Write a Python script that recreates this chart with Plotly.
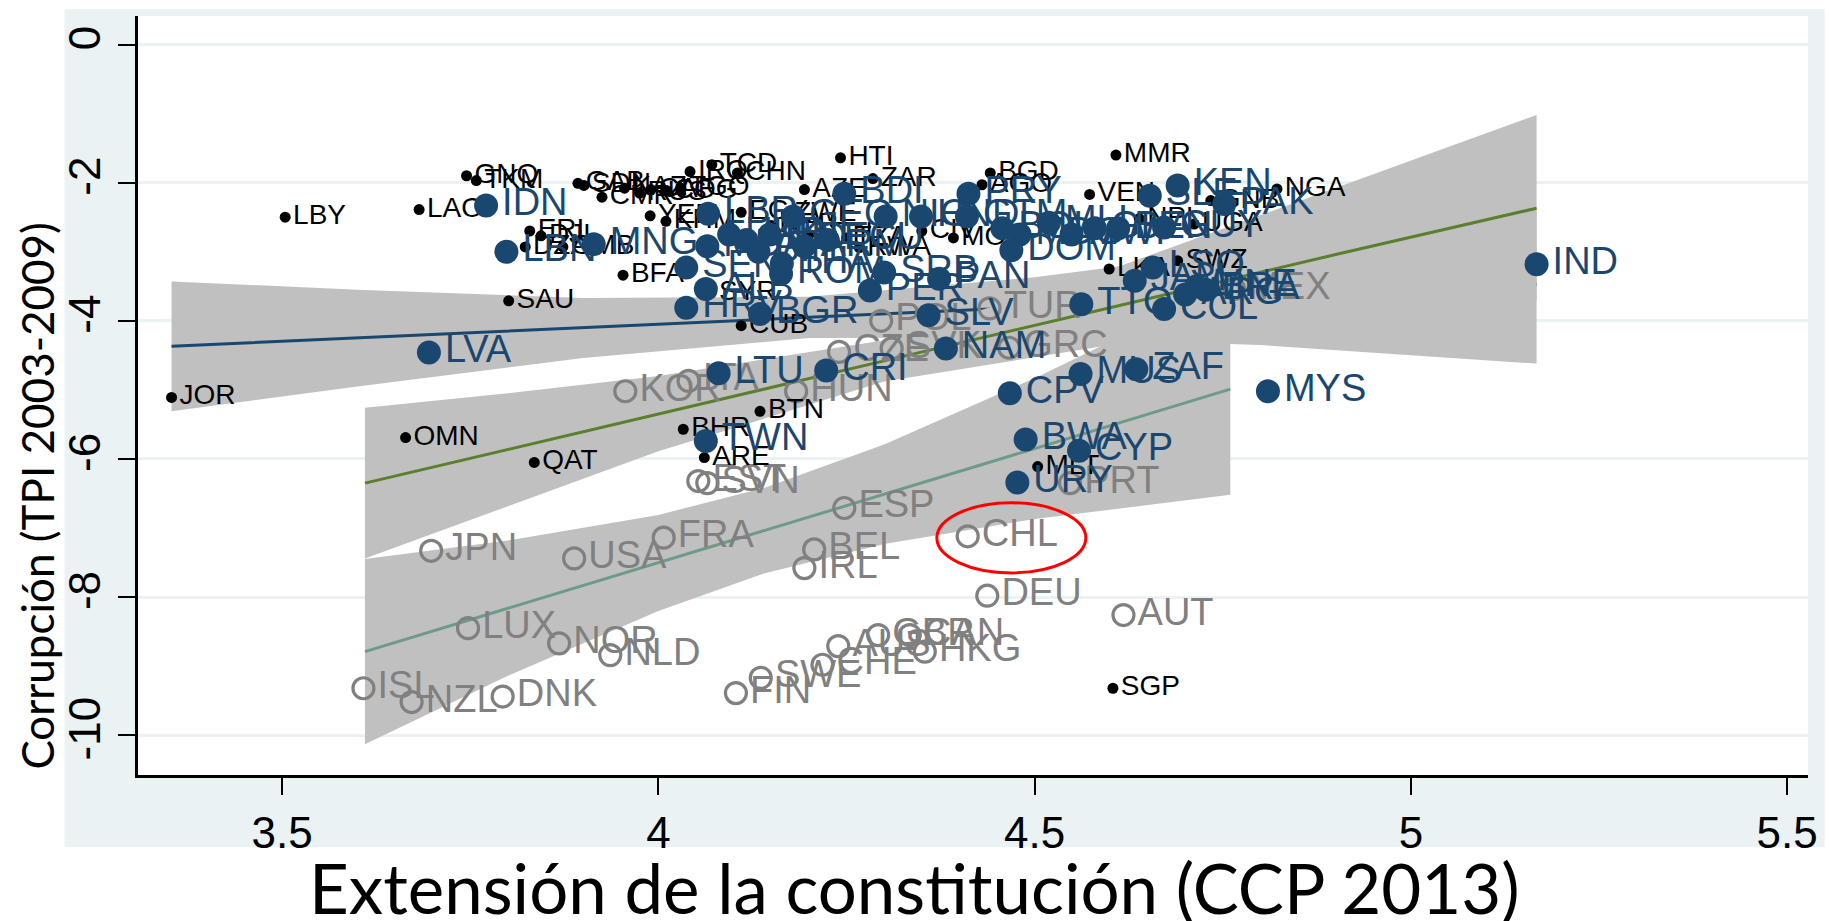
import plotly.graph_objects as go

# ---- data ----
# black: small dots
black_codes = ["JOR", "LBY", "LAO", "GNQ", "TKM", "ERI", "DJI", "DZA", "GMB", "SAU", "OMN", "QAT",
               "GAB", "SDN", "CMR", "KAZ", "RUS", "CAF", "COG", "TGO", "IRQ", "TCD", "CHN", "YEM",
               "KHM", "AZE", "ZAR", "HTI", "EGY", "ZWE", "BFA", "CUB", "RWA", "SYR", "BGD", "AGO",
               "VEN", "MMR", "NGA", "GNB", "UGA", "NPL", "SWZ", "LKA", "MOZ", "NER", "ETH", "TZA",
               "CIV", "BHR", "BTN", "ARE", "MLT", "SGP"]
black_x = [3.353, 3.504, 3.682, 3.745, 3.758, 3.829, 3.844, 3.823, 3.873, 3.801, 3.664, 3.835,
           3.893, 3.901, 3.925, 3.955, 3.975, 3.990, 4.010, 4.030, 4.042, 4.071, 4.105, 3.989,
           4.010, 4.194, 4.285, 4.242, 4.110, 4.170, 3.953, 4.110, 4.267, 4.070, 4.441, 4.430,
           4.573, 4.608, 4.822, 4.734, 4.712, 4.639, 4.690, 4.599, 4.392, 4.150, 4.200, 4.250,
           4.350, 4.033, 4.135, 4.061, 4.504, 4.604]
black_y = [-5.11, -2.50, -2.39, -1.90, -1.97, -2.70, -2.77, -2.93, -2.93, -3.71, -5.69, -6.05,
           -2.01, -2.04, -2.21, -2.08, -2.15, -2.10, -2.12, -2.08, -1.84, -1.74, -1.86, -2.48,
           -2.56, -2.10, -1.94, -1.64, -2.43, -2.45, -3.34, -4.07, -2.94, -3.60, -1.86, -2.03,
           -2.17, -1.60, -2.09, -2.26, -2.60, -2.52, -3.13, -3.25, -2.80, -2.62, -2.75, -2.80,
           -2.70, -5.57, -5.31, -5.98, -6.11, -9.32]

# blue: large filled circles
blue_codes = ["IND", "MYS", "LVA", "IDN", "LBN", "MNG", "TWN", "LTU", "CRI", "NAM", "CPV", "MUS",
              "ZAF", "BWA", "CYP", "URY", "SLV", "PER", "SRB", "PAN", "BGR", "HRV", "SEN", "ALB",
              "ROM", "LBR", "MDA", "UKR", "MKD", "BIH", "PHL", "THA", "ARM", "ECU", "BDI", "NIC",
              "HND", "GTM", "PRY", "BOL", "MDG", "DOM", "MLI", "MWI", "GHA", "BEN", "SLE", "KEN",
              "PAK", "GUY", "TTO", "COL", "JAM", "LSO", "ARG", "BRA", "MNE", "GEO"]
blue_x = [5.167, 4.810, 3.695, 3.771, 3.798, 3.914, 4.063, 4.080, 4.223, 4.382, 4.467, 4.561,
          4.635, 4.488, 4.559, 4.477, 4.359, 4.281, 4.300, 4.373, 4.135, 4.037, 4.037, 4.063,
          4.163, 4.066, 4.065, 4.094, 4.117, 4.133, 4.148, 4.164, 4.194, 4.225, 4.247, 4.302,
          4.349, 4.410, 4.412, 4.457, 4.480, 4.469, 4.519, 4.549, 4.580, 4.611, 4.653, 4.690,
          4.752, 4.672, 4.562, 4.672, 4.633, 4.657, 4.700, 4.727, 4.715, 4.179]
blue_y = [-3.18, -5.02, -4.46, -2.33, -3.00, -2.89, -5.74, -4.76, -4.72, -4.40, -5.05, -4.77,
          -4.70, -5.72, -5.88, -6.34, -3.92, -3.56, -3.30, -3.39, -3.90, -3.81, -3.23, -3.54,
          -3.32, -2.45, -2.92, -2.75, -2.83, -3.00, -2.75, -3.17, -2.92, -2.83, -2.16, -2.49,
          -2.49, -2.49, -2.16, -2.66, -2.75, -2.98, -2.58, -2.75, -2.66, -2.66, -2.19, -2.04,
          -2.31, -2.65, -3.76, -3.83, -3.42, -3.23, -3.62, -3.55, -3.50, -2.49]

# gray: hollow circles
gray_codes = ["MEX", "GRC", "TUR", "POL", "CZE", "SVK", "KOR", "ITA", "HUN", "EST", "SVN", "ESP",
              "CHL", "DEU", "AUT", "BEL", "IRL", "CAN", "AUS", "GBR", "HKG", "CHE", "SWE", "FIN",
              "JPN", "USA", "FRA", "LUX", "NOR", "NLD", "ISL", "NZL", "DNK", "PRT"]
gray_x = [4.765, 4.466, 4.440, 4.296, 4.240, 4.310, 3.956, 4.040, 4.183, 4.053, 4.065, 4.247,
          4.411, 4.437, 4.618, 4.207, 4.194, 4.334, 4.239, 4.292, 4.354, 4.218, 4.136, 4.103,
          3.698, 3.888, 4.007, 3.747, 3.868, 3.936, 3.608, 3.672, 3.793, 4.547]
gray_y = [-3.54, -4.39, -3.82, -4.00, -4.45, -4.40, -5.02, -4.87, -5.02, -6.32, -6.35, -6.71,
          -7.12, -7.98, -8.26, -7.31, -7.58, -8.55, -8.71, -8.55, -8.79, -8.98, -9.17, -9.39,
          -7.33, -7.44, -7.14, -8.45, -8.67, -8.84, -9.32, -9.52, -9.44, -6.35]

# linear fits with confidence bands
fit_a_x = [3.353, 3.6, 3.9, 4.2, 4.5, 4.8, 5.167]
fit_a_line = [-4.37, -4.25, -4.10, -3.95, -3.80, -3.65, -3.47]
fit_a_hi = [-3.43, -3.55, -3.67, -3.65, -3.37, -2.95, -2.42]
fit_a_lo = [-5.31, -4.95, -4.54, -4.25, -4.24, -4.35, -4.62]

fit_b_x = [3.61, 3.8, 4.0, 4.3, 4.6, 4.9, 5.167]
fit_b_line = [-6.35, -5.86, -5.35, -4.58, -3.81, -3.04, -2.37]
fit_b_hi = [-5.26, -5.05, -4.80, -4.28, -3.26, -2.08, -1.02]
fit_b_lo = [-7.44, -6.68, -5.89, -4.88, -4.35, -4.00, -3.71]

fit_c_x = [3.61, 3.8, 4.0, 4.14, 4.3, 4.5, 4.76]
fit_c_line = [-8.79, -8.16, -7.50, -7.04, -6.51, -5.85, -4.99]
fit_c_hi = [-7.45, -7.18, -6.81, -6.42, -5.79, -4.83, -3.46]
fit_c_lo = [-10.13, -9.14, -8.20, -7.66, -7.23, -6.87, -6.52]

x_ticks = [3.5, 4, 4.5, 5, 5.5]
y_ticks = [0, -2, -4, -6, -8, -10]

NAVY = "#1a476f"
GRAY = "#808080"
BAND = "#c0c0c0"
FONT = "Liberation Sans, Arial, sans-serif"
TITLE_FONT = "Lato, Liberation Sans, sans-serif"

fig = go.Figure()

fits = [
    (fit_a_x, fit_a_line, fit_a_hi, fit_a_lo, NAVY),
    (fit_b_x, fit_b_line, fit_b_hi, fit_b_lo, "#5b7f2d"),
    (fit_c_x, fit_c_line, fit_c_hi, fit_c_lo, "#6e9b87"),
]
for fx, fl, fh, flo, col in fits:
    fig.add_trace(go.Scatter(
        x=fx + fx[::-1], y=fh + flo[::-1],
        fill="toself", fillcolor=BAND, line=dict(width=0),
        mode="lines", hoverinfo="skip",
    ))
    fig.add_trace(go.Scatter(
        x=fx, y=fl, mode="lines", line=dict(color=col, width=3), hoverinfo="skip",
    ))

fig.add_trace(go.Scatter(
    x=gray_x, y=gray_y, text=gray_codes, mode="markers+text",
    textposition="middle right",
    marker=dict(symbol="circle-open", size=21, color=GRAY, line=dict(width=3.2, color=GRAY)),
    textfont=dict(family=FONT, size=38, color=GRAY),
))
fig.add_trace(go.Scatter(
    x=black_x, y=black_y, text=black_codes, mode="markers+text",
    textposition="middle right",
    marker=dict(size=11, color="black"),
    textfont=dict(family=FONT, size=28, color="black"),
))
fig.add_trace(go.Scatter(
    x=blue_x, y=blue_y, text=blue_codes, mode="markers+text",
    textposition="middle right",
    marker=dict(size=24, color=NAVY),
    textfont=dict(family=FONT, size=38, color=NAVY),
))

# red ellipse around Chile
chl = gray_codes.index("CHL")
cx, cy = gray_x[chl], gray_y[chl]

fig.update_layout(
    width=1830, height=921,
    margin=dict(l=138, r=12, t=16, b=146),
    paper_bgcolor="white", plot_bgcolor="white",
    showlegend=False,
    font=dict(family=FONT, color="black"),
    shapes=[
        dict(type="rect", xref="paper", yref="paper", x0=-0.044, x1=1.01, y0=-0.095, y1=1.009,
             fillcolor="#eaf2f3", line=dict(width=0), layer="below"),
        dict(type="rect", xref="paper", yref="paper", x0=0, x1=1, y0=0, y1=1,
             fillcolor="white", line=dict(width=0), layer="below"),
        dict(type="circle", xref="x", yref="y", x0=cx - 0.041, x1=cx + 0.157,
             y0=cy + 0.485, y1=cy - 0.53, line=dict(color="red", width=3)),
    ],
    annotations=[
        dict(text="Corrupción (TPI 2003-2009)", xref="paper", yref="paper",
             x=-0.0607, y=0.3676, xanchor="center", yanchor="middle", textangle=-90,
             showarrow=False, font=dict(family=TITLE_FONT, size=44, color="black")),
        dict(text="Extensión de la constitución (CCP 2013)", xref="paper", yref="paper",
             x=0.4649, y=-0.1476, xanchor="center", yanchor="middle",
             showarrow=False, font=dict(family=TITLE_FONT, size=69, color="black")),
    ],
)
fig.update_xaxes(
    range=[3.3084, 5.5277], tickvals=x_ticks, ticktext=[str(v) for v in x_ticks],
    showgrid=False, zeroline=False, showline=True, linecolor="black", linewidth=3,
    ticks="outside", ticklen=17, tickwidth=2, tickcolor="black",
    tickfont=dict(family=FONT, size=44, color="black"),
)
fig.update_yaxes(
    range=[-10.576, 0.413], tickvals=y_ticks, ticktext=[str(v) for v in y_ticks],
    showgrid=True, gridcolor="#eaf2f3", gridwidth=3, zeroline=False,
    showline=True, linecolor="black", linewidth=3,
    ticks="outside", ticklen=17, tickwidth=2, tickcolor="black", tickangle=-90,
    tickfont=dict(family=FONT, size=44, color="black"),
)

# drop the default page margin so the figure sits at the window's top-left corner
fig.write_html("out.html", config={"displayModeBar": False},
               post_script="document.body.style.margin = '0';")
